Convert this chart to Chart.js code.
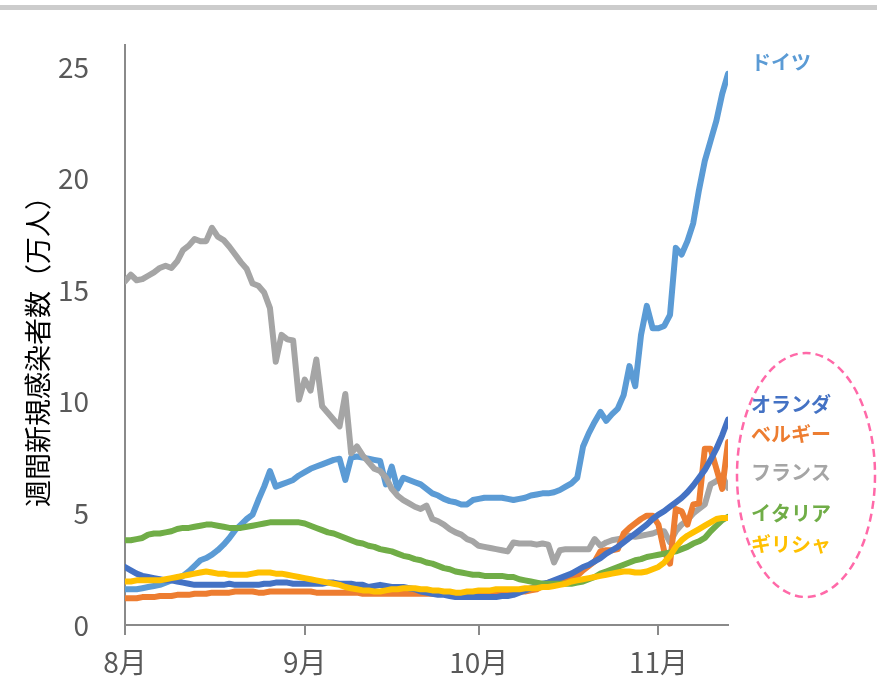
<!DOCTYPE html>
<html>
<head>
<meta charset="utf-8">
<script src="https://cdn.jsdelivr.net/npm/chart.js@4"></script>
<style>
  html, body { margin: 0; padding: 0; background: #ffffff; }
  #wrap { width: 877px; height: 679px; position: relative; }
</style>
</head>
<body>
<div id="wrap"><canvas id="c" width="877" height="679"></canvas></div>
<script>
// Weekly new infections (10k people), one value per day from Aug 1 to Nov 13
const germany = [
  1.6, 1.6, 1.6, 1.65, 1.7, 1.75, 1.8, 1.9, 2.0, 2.1,
  2.2, 2.4, 2.65, 2.9, 3.0, 3.15, 3.35, 3.6, 3.9, 4.25,
  4.5, 4.75, 4.95, 5.6, 6.2, 6.9, 6.2, 6.3, 6.4, 6.5,
  6.7, 6.85, 7.0, 7.1, 7.2, 7.3, 7.4, 7.45, 6.5, 7.5,
  7.55, 7.5, 7.45, 7.4, 7.35, 6.3, 7.1, 6.1, 6.6, 6.5,
  6.4, 6.3, 6.1, 5.9, 5.8, 5.65, 5.55, 5.5, 5.4, 5.4,
  5.6, 5.65, 5.7, 5.7, 5.7, 5.7, 5.65, 5.6, 5.65, 5.7,
  5.8, 5.85, 5.9, 5.9, 5.95, 6.05, 6.2, 6.35, 6.6, 8.0,
  8.6, 9.1, 9.55, 9.15, 9.45, 9.7, 10.3, 11.6, 10.7, 13.0,
  14.3, 13.3, 13.3, 13.4, 13.9, 16.9, 16.6, 17.2, 18.0, 19.5,
  20.8, 21.7, 22.6, 23.8, 24.7
];
const netherlands = [
  2.6, 2.45, 2.3, 2.2, 2.15, 2.1, 2.05, 2.0, 2.0, 1.95,
  1.9, 1.85, 1.8, 1.8, 1.8, 1.8, 1.8, 1.8, 1.85, 1.8,
  1.8, 1.8, 1.8, 1.8, 1.85, 1.85, 1.9, 1.9, 1.9, 1.85,
  1.85, 1.85, 1.85, 1.85, 1.85, 1.9, 1.9, 1.85, 1.85, 1.85,
  1.8, 1.8, 1.7, 1.75, 1.8, 1.75, 1.7, 1.7, 1.7, 1.65,
  1.6, 1.5, 1.45, 1.4, 1.35, 1.35, 1.3, 1.25, 1.25, 1.25,
  1.25, 1.25, 1.25, 1.25, 1.25, 1.3, 1.3, 1.35, 1.45, 1.55,
  1.65, 1.75, 1.85, 1.9, 2.0, 2.1, 2.2, 2.3, 2.45, 2.6,
  2.7, 2.85, 3.0, 3.2, 3.35, 3.5, 3.7, 3.9, 4.1, 4.3,
  4.5, 4.75, 4.95, 5.1, 5.3, 5.5, 5.7, 5.95, 6.25, 6.6,
  6.95, 7.4, 7.9, 8.5, 9.2
];
const belgium = [
  1.2, 1.2, 1.2, 1.25, 1.25, 1.25, 1.3, 1.3, 1.3, 1.35,
  1.35, 1.35, 1.4, 1.4, 1.4, 1.45, 1.45, 1.45, 1.45, 1.5,
  1.5, 1.5, 1.5, 1.45, 1.45, 1.5, 1.5, 1.5, 1.5, 1.5,
  1.5, 1.5, 1.5, 1.45, 1.45, 1.45, 1.45, 1.45, 1.45, 1.45,
  1.45, 1.4, 1.4, 1.4, 1.4, 1.4, 1.4, 1.4, 1.4, 1.4,
  1.4, 1.4, 1.4, 1.4, 1.4, 1.4, 1.4, 1.4, 1.4, 1.4,
  1.4, 1.4, 1.4, 1.4, 1.4, 1.4, 1.45, 1.45, 1.5, 1.5,
  1.55, 1.6, 1.75, 1.9, 1.95, 2.0, 2.0, 2.05, 2.2, 2.45,
  2.65, 2.85, 3.3, 3.35, 3.35, 3.4, 4.1, 4.35, 4.55, 4.75,
  4.9, 4.9, 4.5, 3.3, 2.75, 5.2, 5.1, 4.5, 5.4, 5.45,
  7.9, 7.9, 7.0, 6.1, 8.2
];
const france = [
  15.4, 15.7, 15.45, 15.5, 15.65, 15.8, 16.0, 16.1, 16.0, 16.3,
  16.8, 17.0, 17.3, 17.2, 17.2, 17.8, 17.4, 17.25, 16.95, 16.6,
  16.25, 15.95, 15.3, 15.2, 14.9, 14.2, 11.8, 13.0, 12.8, 12.75,
  10.1, 11.0, 10.5, 11.9, 9.8, 9.5, 9.2, 8.9, 10.35, 7.7,
  8.0, 7.6, 7.3, 7.0, 6.9, 6.6, 6.1, 5.8, 5.6, 5.45,
  5.3, 5.2, 5.35, 4.75, 4.65, 4.5, 4.3, 4.15, 4.05, 3.85,
  3.75, 3.55, 3.5, 3.45, 3.4, 3.35, 3.3, 3.7, 3.65, 3.65,
  3.65, 3.6, 3.65, 3.6, 2.8, 3.35, 3.4, 3.4, 3.4, 3.4,
  3.4, 3.85, 3.55, 3.7, 3.8, 3.85, 3.9, 4.0, 3.95, 4.0,
  4.05, 4.1, 4.2, 4.2, 3.7, 4.2, 4.5, 4.7, 5.0, 5.2,
  5.4, 6.3, 6.45, 6.7, 6.15
];
const italy = [
  3.8, 3.8, 3.85, 3.9, 4.05, 4.1, 4.1, 4.15, 4.2, 4.3,
  4.35, 4.35, 4.4, 4.45, 4.5, 4.5, 4.45, 4.4, 4.35, 4.35,
  4.35, 4.4, 4.45, 4.5, 4.55, 4.6, 4.6, 4.6, 4.6, 4.6,
  4.6, 4.55, 4.45, 4.35, 4.25, 4.15, 4.1, 4.0, 3.9, 3.8,
  3.7, 3.65, 3.55, 3.5, 3.4, 3.35, 3.3, 3.2, 3.1, 3.05,
  2.95, 2.9, 2.8, 2.75, 2.65, 2.55, 2.5, 2.4, 2.35, 2.3,
  2.25, 2.25, 2.2, 2.2, 2.2, 2.2, 2.15, 2.15, 2.05, 2.0,
  1.95, 1.9, 1.85, 1.85, 1.85, 1.85, 1.85, 1.85, 1.9, 1.95,
  2.05, 2.15, 2.3, 2.4, 2.5, 2.6, 2.7, 2.8, 2.9, 2.95,
  3.05, 3.1, 3.15, 3.2, 3.25, 3.3, 3.4, 3.5, 3.65, 3.75,
  3.9, 4.2, 4.45, 4.7, 4.85
];
const greece = [
  1.95, 1.95, 2.0, 2.0, 2.0, 2.0, 2.0, 2.05, 2.1, 2.15,
  2.2, 2.25, 2.3, 2.35, 2.4, 2.35, 2.3, 2.3, 2.25, 2.25,
  2.25, 2.25, 2.3, 2.35, 2.35, 2.35, 2.3, 2.3, 2.25, 2.2,
  2.15, 2.1, 2.05, 2.0, 1.95, 1.9, 1.85, 1.8, 1.7, 1.65,
  1.6, 1.55, 1.55, 1.5, 1.5, 1.55, 1.6, 1.6, 1.65, 1.65,
  1.65, 1.6, 1.6, 1.55, 1.55, 1.5, 1.5, 1.45, 1.45, 1.5,
  1.5, 1.55, 1.55, 1.55, 1.6, 1.6, 1.6, 1.6, 1.6, 1.65,
  1.65, 1.65, 1.7, 1.7, 1.75, 1.8, 1.85, 1.95, 2.0, 2.05,
  2.1, 2.15, 2.2, 2.25, 2.3, 2.35, 2.4, 2.4, 2.35, 2.35,
  2.4, 2.5, 2.6, 2.8, 3.1, 3.5, 3.8, 4.0, 4.15, 4.3,
  4.45, 4.6, 4.75, 4.8, 4.8
];

// Axis tick labels: month starts counted in days from Aug 1
const monthLabels = ['8月', '9月', '10月', '11月'];
const monthStartDays = [0, 31, 61, 92];
const lastDay = 104;
const yTickValues = [0, 5, 10, 15, 20, 25];
const yTitle = '週間新規感染者数（万人）';

// Country names and colours
const seriesNames = ['ドイツ', 'オランダ', 'ベルギー', 'フランス', 'イタリア', 'ギリシャ'];
const seriesColors = ['#5B9BD5', '#4472C4', '#ED7D31', '#A5A5A5', '#70AD47', '#FFC000'];
const seriesValues = [germany, netherlands, belgium, france, italy, greece];
// Stacking order on the canvas (lower number is drawn on top)
const seriesOrder = [6, 3, 4, 5, 2, 1];

const toPoints = arr => arr.map((v, i) => ({ x: i, y: v }));

const datasets = seriesValues.map((vals, i) => ({
  label: seriesNames[i],
  data: toPoints(vals),
  borderColor: seriesColors[i],
  backgroundColor: seriesColors[i],
  borderWidth: 6,
  pointRadius: 0,
  tension: 0,
  borderJoinStyle: 'round',
  borderCapStyle: 'round',
  order: seriesOrder[i]
}));

const tickFont = { family: "'Noto Sans CJK JP', 'Noto Sans', sans-serif", size: 28 };
const axisGray = '#8A8A8A';

// Labels drawn to the right of the plot, with the dashed ellipse grouping
const sideLabels = [
  { text: 'ドイツ', color: '#5B9BD5', x: 751, y: 62 },
  { text: 'オランダ', color: '#4472C4', x: 751, y: 404 },
  { text: 'ベルギー', color: '#ED7D31', x: 751, y: 434 },
  { text: 'フランス', color: '#A5A5A5', x: 751, y: 472 },
  { text: 'イタリア', color: '#70AD47', x: 751, y: 513 },
  { text: 'ギリシャ', color: '#FFC000', x: 751, y: 544 }
];

const decorations = {
  id: 'decorations',
  afterDraw(chart) {
    const ctx = chart.ctx;
    ctx.save();
    // thin gray band across the top
    ctx.fillStyle = '#CCCCCC';
    ctx.fillRect(0, 5, chart.width, 5);

    // vertical axis title
    ctx.save();
    ctx.translate(38, 345);
    ctx.rotate(-Math.PI / 2);
    ctx.fillStyle = '#000000';
    ctx.font = "27px 'Noto Sans CJK JP', sans-serif";
    ctx.textAlign = 'center';
    ctx.textBaseline = 'middle';
    ctx.fillText(yTitle, 0, 0);
    ctx.restore();

    // dashed ellipse around the group of smaller countries
    ctx.beginPath();
    ctx.ellipse(806, 475, 69, 122, 0, 0, Math.PI * 2);
    ctx.setLineDash([8, 5]);
    ctx.lineWidth = 2.5;
    ctx.strokeStyle = '#FF69A8';
    ctx.stroke();
    ctx.setLineDash([]);

    // country names
    ctx.font = "bold 20px 'Noto Sans CJK JP', sans-serif";
    ctx.textAlign = 'left';
    ctx.textBaseline = 'middle';
    sideLabels.forEach(l => {
      ctx.fillStyle = l.color;
      ctx.fillText(l.text, l.x, l.y);
    });
    ctx.restore();
  }
};

new Chart(document.getElementById('c'), {
  type: 'line',
  data: { datasets },
  options: {
    responsive: false,
    animation: false,
    events: [],
    layout: { padding: { top: 42, right: 149, left: 0, bottom: 0 } },
    plugins: { legend: { display: false }, tooltip: { enabled: false } },
    scales: {
      x: {
        type: 'linear',
        min: 0,
        max: lastDay,
        afterBuildTicks: s => { s.ticks = monthStartDays.map(v => ({ value: v })); },
        afterFit: s => { s.height = 54; },
        border: { display: true, color: axisGray, width: 2 },
        grid: { display: true, drawOnChartArea: false, drawTicks: true, tickLength: 10, color: axisGray, lineWidth: 2 },
        ticks: {
          autoSkip: false,
          maxRotation: 0,
          padding: 11,
          color: '#595959',
          font: tickFont,
          callback: (v, i) => monthLabels[i]
        }
      },
      y: {
        min: 0,
        max: 26,
        afterBuildTicks: s => { s.ticks = yTickValues.map(v => ({ value: v })); },
        afterFit: s => { s.width = 125; },
        border: { display: true, color: axisGray, width: 2 },
        grid: { display: false },
        ticks: {
          padding: 28,
          color: '#595959',
          font: tickFont
        }
      }
    }
  },
  plugins: [decorations]
});
</script>
</body>
</html>
